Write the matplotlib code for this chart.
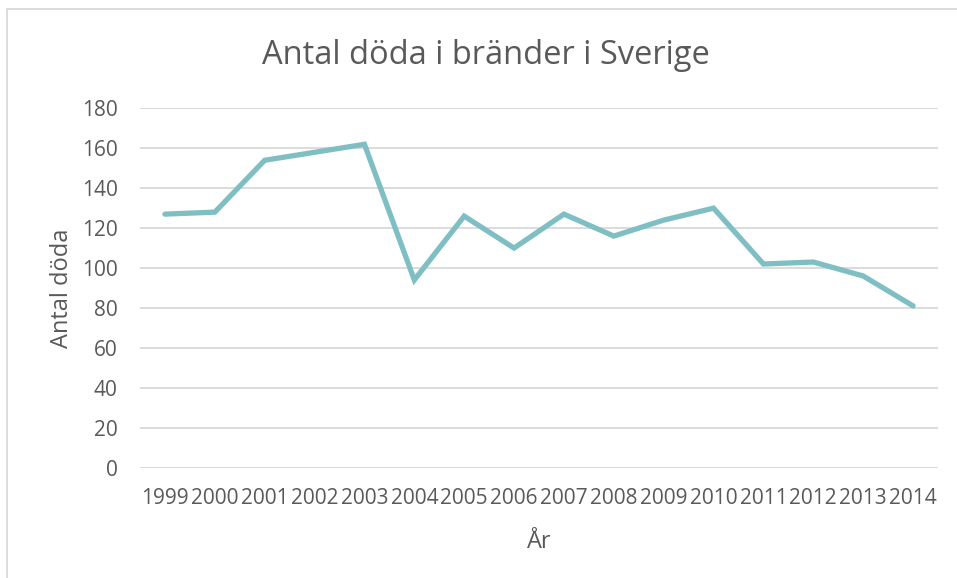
import matplotlib
matplotlib.use("Agg")
import matplotlib.pyplot as plt
from matplotlib.lines import Line2D

years = ["1999", "2000", "2001", "2002", "2003", "2004", "2005", "2006",
         "2007", "2008", "2009", "2010", "2011", "2012", "2013", "2014"]
deaths = [127, 128, 154, 158, 162, 94, 126, 110, 127, 116, 124, 130, 102, 103, 96, 81]
yticks = [0, 20, 40, 60, 80, 100, 120, 140, 160, 180]

plt.rcParams['font.family'] = ['Open Sans', 'DejaVu Sans']
TEXT = '#595959'
GRID = '#d9d9d9'
LINE = '#7fbfc4'

W, H = 957, 578
fig = plt.figure(figsize=(W / 100, H / 100), dpi=100)
ax = fig.add_axes([140 / W, 1 - 467.5 / H, (938 - 140) / W, (467.5 - 108.4) / H])

x = list(range(len(years)))
ax.plot(x, deaths, color=LINE, lw=3.8, solid_capstyle='round', solid_joinstyle='miter', zorder=3)

ax.set_xlim(-0.5, len(years) - 0.5)
ax.set_ylim(0, 180)
ax.set_yticks(yticks)
ax.set_yticklabels([str(v) for v in yticks])
ax.set_xticks(x)
ax.set_xticklabels(years)
ax.tick_params(axis='both', length=0, colors=TEXT, labelsize=15)
ax.tick_params(axis='y', pad=16)
ax.tick_params(axis='x', pad=15)
ax.grid(axis='y', color=GRID, lw=1.3)
ax.set_axisbelow(True)
for s in ax.spines.values():
    s.set_visible(False)

ax.set_ylabel('Antal döda', color=TEXT, fontsize=17, labelpad=6)
ax.set_xlabel('År', color=TEXT, fontsize=17, labelpad=15)

fig.text(486 / W, 1 - 56 / H, 'Antal döda i bränder i Sverige', ha='center', va='center',
         color=TEXT, fontsize=23.5)

# chart area border
fig.add_artist(Line2D([7 / W, 7 / W], [0, 1 - 9 / H], transform=fig.transFigure, color=GRID, lw=1.3))
fig.add_artist(Line2D([7 / W, 1], [1 - 9 / H, 1 - 9 / H], transform=fig.transFigure, color=GRID, lw=1.3))

fig.savefig('out.png', dpi=100)
